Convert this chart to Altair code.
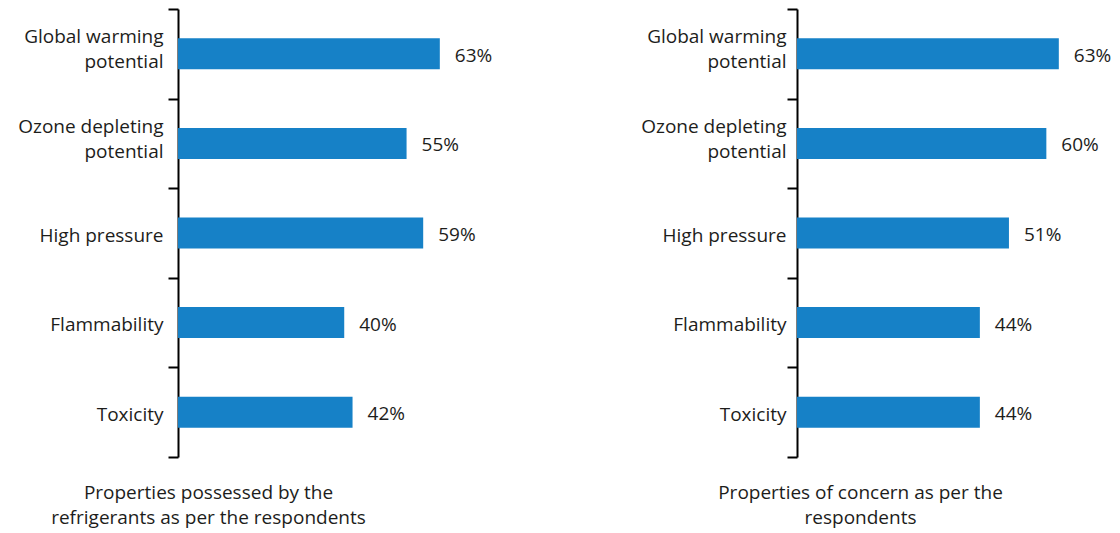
import altair as alt
import pandas as pd

# Survey results (% of respondents) for each refrigerant property
categories = [
    "Global warming\npotential",
    "Ozone depleting\npotential",
    "High pressure",
    "Flammability",
    "Toxicity",
]
possessed = [63, 55, 59, 40, 42]
concern = [63, 60, 51, 44, 44]

title_possessed = ["Properties possessed by the", "refrigerants as per the respondents"]
title_concern = ["Properties of concern as per the", "respondents"]

BAR_COLOR = "#1681C7"
INK = "#1d1d1b"
FONT = "Open Sans"
FS = 19


def panel(values, title_lines, title_x, label_pad):
    df = pd.DataFrame({"property": categories, "pct": values})
    df["label"] = df["pct"].astype(str) + "%"

    x = alt.X(
        "pct:Q",
        scale=alt.Scale(domain=[0, 77], nice=False, zero=True),
        axis=alt.Axis(
            domain=False, ticks=False, labels=False, grid=False,
            title=title_lines, titleX=title_x, titleY=35,
            titleAlign="center", titleBaseline="middle",
            titleFont=FONT, titleFontSize=FS, titleFontWeight="normal",
            titleColor=INK, titleLineHeight=25,
        ),
    )
    y = alt.Y(
        "property:N",
        sort=categories,
        scale=alt.Scale(paddingInner=0, paddingOuter=0),
        axis=alt.Axis(
            title=None, tickBand="extent", tickSize=10, tickWidth=2,
            tickColor="black", domainColor="black", domainWidth=2,
            labelExpr="datum.value ? split(datum.value, '\\n') : ''",
            labelFont=FONT, labelFontSize=FS, labelColor=INK,
            labelLineHeight=25, labelPadding=label_pad,
            labelBaseline="middle", labelAlign="right",
            # two-line labels are centred on their band as a block
            labelOffset={
                "condition": {
                    "test": "isString(datum.value) && indexof(datum.value, '\\n') >= 0",
                    "value": -17,
                },
                "value": 2,
            },
            minExtent=170, maxExtent=170, grid=False,
        ),
    )

    bars = alt.Chart(df).mark_bar(color=BAR_COLOR, size=31).encode(x=x, y=y)
    text = alt.Chart(df).mark_text(
        align="left", baseline="middle", dx=15, dy=2,
        font=FONT, fontSize=FS, color=INK,
    ).encode(x="pct:Q", y=alt.Y("property:N", sort=categories), text="label:N")

    return (bars + text).properties(width=320, height=448)


left = panel(possessed, title_possessed, 30, 5)
right = panel(concern, title_concern, 63, 1)

chart = (
    alt.hconcat(left, right, spacing=129)
    .properties(
        padding={"left": 8, "top": 0, "right": 0, "bottom": 20},
        background="white",
    )
    .configure_view(strokeWidth=0, stroke="transparent")
)

chart.save("out.html", embed_options={"renderer": "svg", "actions": False})
